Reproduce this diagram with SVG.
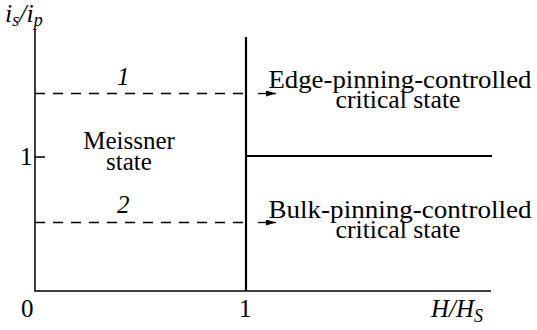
<svg xmlns="http://www.w3.org/2000/svg" width="537" height="330" viewBox="0 0 537 330" font-family="'Liberation Serif', 'DejaVu Serif', serif">
<style>
text{font-family:"Liberation Serif","DejaVu Serif",serif;font-size:25px;fill:#000}
.it{font-style:italic}
.ax{stroke:#000;stroke-width:1.5;fill:none}
.bd{stroke:#000;stroke-width:2.2;fill:none}
.ds{stroke:#000;stroke-width:1.3;stroke-dasharray:10 8;fill:none}
.ar{stroke:#000;stroke-width:1.3;fill:none}
</style>
<defs>
<marker id="ah" viewBox="0 0 10 6" refX="10" refY="3" markerWidth="10" markerHeight="6" markerUnits="userSpaceOnUse" orient="auto">
<path d="M0,0 L10,3 L0,6 Z" fill="#000"/>
</marker>
</defs>
<g id="axes">
<path class="ax" d="M35,30 V291 H491"/>
<path class="ax" d="M35,157 H45"/>
<text x="5" y="22" class="it" style="font-size:26px">i<tspan style="font-size:18px" dy="4">s</tspan><tspan dy="-4">/i</tspan><tspan style="font-size:18px" dy="4">p</tspan></text>
<text x="20" y="165">1</text>
<text x="21" y="317">0</text>
<text x="239" y="317">1</text>
<text x="431" y="317" class="it">H/H<tspan style="font-size:18px" dy="5">S</tspan></text>
</g>
<g id="boundaries">
<path class="bd" d="M246,37 V291"/>
<path class="bd" d="M246,156 H492"/>
</g>
<g id="connectors">
<path class="ds" d="M35,93.5 H246"/>
<path class="ar" d="M258,93.5 H276" marker-end="url(#ah)"/>
<path class="ds" d="M35,222.5 H246"/>
<path class="ar" d="M258,222.5 H276" marker-end="url(#ah)"/>
</g>
<g id="label1"><text x="117" y="85" class="it">1</text></g>
<g id="label2"><text x="117" y="213" class="it">2</text></g>
<g id="meissner">
<text x="129" y="149" text-anchor="middle">Meissner</text>
<text x="129" y="170" text-anchor="middle">state</text>
</g>
<g id="edge">
<text x="400" y="88" text-anchor="middle" textLength="263" lengthAdjust="spacingAndGlyphs">Edge-pinning-controlled</text>
<text x="398" y="108" text-anchor="middle" textLength="125" lengthAdjust="spacingAndGlyphs">critical state</text>
</g>
<g id="bulk">
<text x="400" y="218" text-anchor="middle" textLength="263" lengthAdjust="spacingAndGlyphs">Bulk-pinning-controlled</text>
<text x="398" y="238" text-anchor="middle" textLength="125" lengthAdjust="spacingAndGlyphs">critical state</text>
</g>
</svg>
